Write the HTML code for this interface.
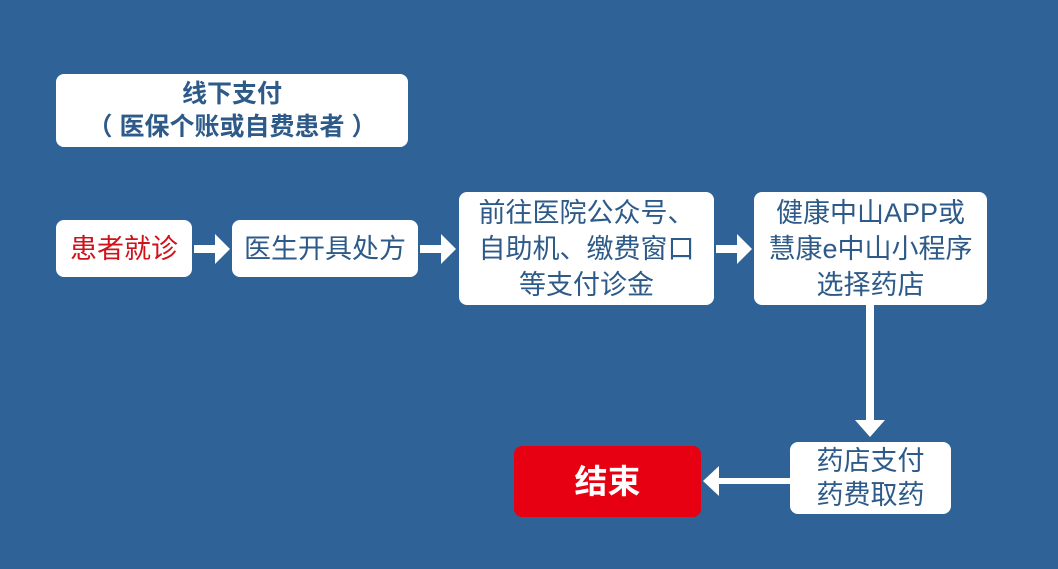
<!DOCTYPE html>
<html><head><meta charset="utf-8"><style>
body{margin:0;width:1058px;height:569px;background:#2F6398;position:relative;overflow:hidden;font-family:"Liberation Sans","Noto Sans CJK SC",sans-serif}
.b{position:absolute;background:#fff;border-radius:8px;display:flex;align-items:center;justify-content:center;text-align:center;color:#2D5A88;font-size:27px;line-height:36px;white-space:nowrap}
</style></head><body>
<div class="b" style="left:56px;top:74px;width:352px;height:73px;font-weight:bold;font-size:25px;line-height:33px">线下支付<br>（ 医保个账或自费患者 ）</div>
<div class="b" style="left:56px;top:220px;width:136px;height:57px;color:#D0121B">患者就诊</div>
<div class="b" style="left:232px;top:220px;width:186px;height:57px">医生开具处方</div>
<div class="b" style="left:459px;top:192px;width:255px;height:113px">前往医院公众号、<br>自助机、缴费窗口<br>等支付诊金</div>
<div class="b" style="left:754px;top:192px;width:233px;height:113px">健康中山APP或<br>慧康e中山小程序<br>选择药店</div>
<div class="b" style="left:790px;top:442px;width:161px;height:72px;line-height:34px">药店支付<br>药费取药</div>
<div class="b" style="left:514px;top:446px;width:187px;height:71px;background:#E60012;color:#fff;font-weight:bold;font-size:33px">结束</div>
<svg width="1058" height="569" style="position:absolute;left:0;top:0">
<g fill="#fff">
<rect x="194" y="245" width="22" height="8"/><polygon points="215,234 230,249 215,264"/>
<rect x="420" y="245" width="22" height="8"/><polygon points="441,234 456,249 441,264"/>
<rect x="716" y="245" width="22" height="8"/><polygon points="737,234 752,249 737,264"/>
<rect x="866" y="305" width="8" height="116"/><polygon points="855,420 885,420 870,437"/>
<rect x="718" y="478" width="72" height="6"/><polygon points="719,466 719,496 703,481"/>
</g></svg>
</body></html>
